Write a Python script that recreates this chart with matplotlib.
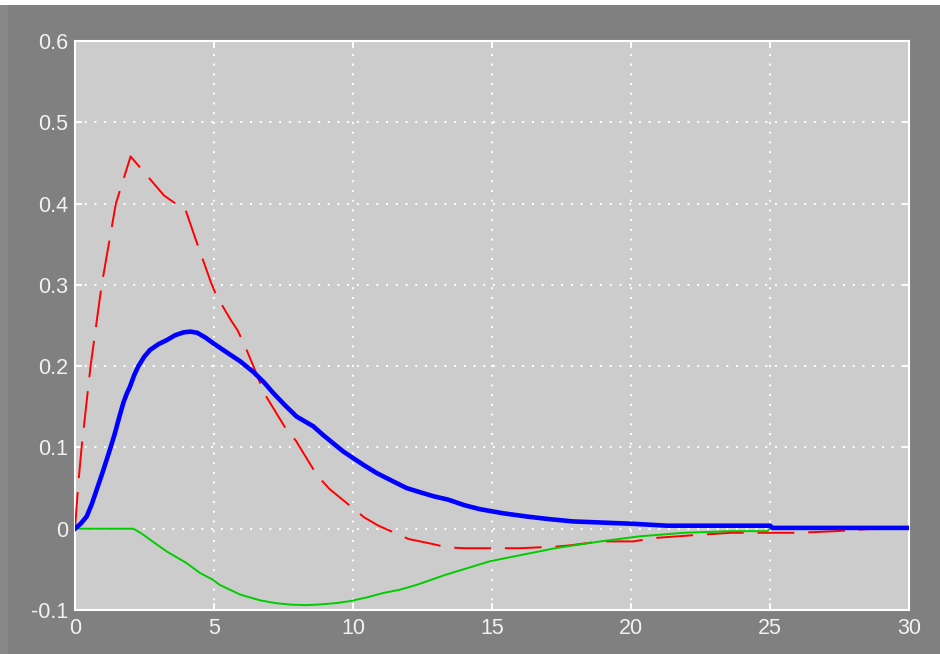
import matplotlib
matplotlib.use("Agg")
import matplotlib.pyplot as plt
from matplotlib.patches import Rectangle

# Red dashed trace
red_t = [0, 0.12, 0.24, 0.56, 0.96, 1.47, 2.0, 3.2, 3.7, 3.95, 4.3, 4.9, 5.1, 5.6,
         5.85, 6.1, 6.5, 6.8, 7.55, 7.95, 8.7, 9.15, 10.4, 10.9, 12.0, 12.7, 13.4,
         14.0, 16.0, 17.3, 17.8, 18.9, 20.1, 20.8, 22.5, 23.6, 26.0, 27.4, 28.5, 30]
red_y = [0, 0.056, 0.101, 0.2, 0.3, 0.4, 0.458, 0.41, 0.398, 0.395, 0.36, 0.302,
         0.286, 0.257, 0.244, 0.226, 0.193, 0.167, 0.125, 0.108, 0.066, 0.049, 0.014,
         0.004, -0.0127, -0.0176, -0.023, -0.024, -0.024, -0.022, -0.0205, -0.0156,
         -0.0156, -0.0115, -0.0074, -0.005, -0.005, -0.003, -0.0005, 0.0]

# Blue thick trace
blue_t = [0, 0.2, 0.42, 0.6, 0.78, 0.96, 1.14, 1.29, 1.44, 1.59, 1.74, 1.86, 1.98,
          2.13, 2.28, 2.5, 2.7, 3.0, 3.3, 3.6, 3.9, 4.15, 4.4, 4.7, 4.98, 5.5, 5.94,
          6.41, 6.8, 7.13, 7.55, 7.97, 8.57, 8.9, 9.29, 9.65, 10.0, 10.4, 10.85, 11.4,
          11.93, 12.4, 12.89, 13.43, 14.0, 14.57, 15.4, 16.25, 17.0, 17.9, 19.0, 20.1,
          21.3, 25.0, 25.1, 30]
blue_y = [0, 0.006, 0.015, 0.03, 0.048, 0.066, 0.085, 0.101, 0.118, 0.137, 0.155, 0.166,
          0.175, 0.189, 0.2, 0.212, 0.22, 0.227, 0.232, 0.238, 0.2415, 0.2425, 0.241,
          0.235, 0.228, 0.216, 0.206, 0.193, 0.18, 0.167, 0.152, 0.138, 0.126, 0.116,
          0.105, 0.095, 0.087, 0.078, 0.0685, 0.059, 0.05, 0.045, 0.04, 0.0357, 0.029,
          0.024, 0.019, 0.015, 0.012, 0.009, 0.0075, 0.006, 0.0037, 0.0037, 0.001, 0.001]

# Green trace
green_t = [0, 2.1, 2.4, 2.7, 3.3, 4.0, 4.5, 4.97, 5.2, 5.94, 6.65, 7.2, 7.8, 8.3, 8.8,
           9.4, 9.9, 10.5, 11.1, 11.69, 12.3, 13.3, 14.93, 16.1, 17.3, 18.9, 20.3, 21.9,
           23.6, 24.9, 25.0, 30]
green_y = [0, 0, -0.006, -0.0135, -0.028, -0.042, -0.0545, -0.063, -0.069, -0.081,
           -0.088, -0.0915, -0.0935, -0.094, -0.0932, -0.0915, -0.089, -0.0845, -0.079,
           -0.075, -0.069, -0.057, -0.040, -0.032, -0.0238, -0.0156, -0.0094, -0.005,
           -0.003, -0.003, 0, 0]

x_ticks = [0, 5, 10, 15, 20, 25, 30]
y_ticks = [-0.1, 0, 0.1, 0.2, 0.3, 0.4, 0.5, 0.6]
y_labels = ["-0.1", "0", "0.1", "0.2", "0.3", "0.4", "0.5", "0.6"]

plt.rcParams['font.family'] = ['Liberation Sans', 'DejaVu Sans']

fig = plt.figure(figsize=(9.4, 6.54), dpi=100, facecolor='#808080')
ax = fig.add_axes([75 / 940, 1 - 610 / 654, 834 / 940, 569 / 654])
ax.set_facecolor('#cccccc')

# top white band and lighter left strip of the window
fig.patches.append(Rectangle((0, 1 - 5 / 654), 1, 5 / 654, transform=fig.transFigure,
                             facecolor='white', edgecolor='none', zorder=0))
fig.patches.append(Rectangle((0, 0), 8 / 940, 1 - 5 / 654, transform=fig.transFigure,
                             facecolor='#888888', edgecolor='none', zorder=0))

lw_red = 1.4
ax.plot(red_t, red_y, color='#ff0000', lw=lw_red, dashes=(26.5 / lw_red, 10 / lw_red), zorder=3)
ax.plot(green_t, green_y, color='#00cc00', lw=1.4, zorder=4)
ax.plot(blue_t, blue_y, color='#0000ff', lw=3.3, zorder=5)

ax.set_xlim(0, 30)
ax.set_ylim(-0.1, 0.6)
ax.set_xticks(x_ticks)
ax.set_yticks(y_ticks)
ax.set_yticklabels(y_labels)

ax.grid(True, color='white', linestyle=(0, (1, 4)), linewidth=1.4)
ax.set_axisbelow(True)

for s in ax.spines.values():
    s.set_color('white')
    s.set_linewidth(1.5)

ax.tick_params(direction='in', length=5, width=1.3, color='white', labelcolor='#f2f2f2',
               labelsize=15.5, top=True, right=True)
ax.tick_params(axis='y', pad=5)
ax.tick_params(axis='x', pad=6)

fig.savefig('out.png', dpi=100, facecolor=fig.get_facecolor())
